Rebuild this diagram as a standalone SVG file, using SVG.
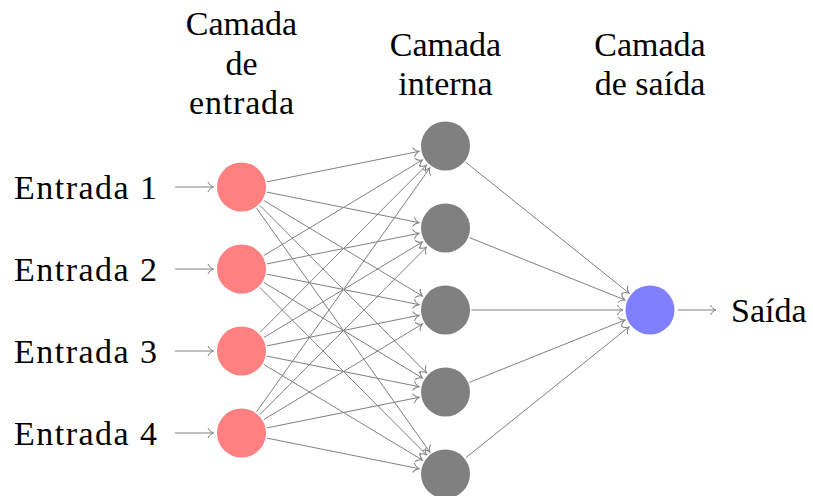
<svg xmlns="http://www.w3.org/2000/svg" width="813" height="496" viewBox="0 0 813 496">
<style>
  .t { font-family: "Liberation Serif", "Times New Roman", serif; font-size: 34px; fill: #000; }
  .e { stroke: #808080; stroke-width: 1; fill: none; marker-end: url(#arr); }
  .in { fill: #FF8080; }
  .hid { fill: #808080; }
  .out { fill: #8080FF; }
</style>
<defs>
  <marker id="arr" markerUnits="userSpaceOnUse" viewBox="-8 -7 10 14" markerWidth="10" markerHeight="14" refX="0" refY="0" orient="auto" overflow="visible">
    <path d="M -5.5,-5 C -4.5,-2 -1.5,-0.5 0,0 C -1.5,0.5 -4.5,2 -5.5,5" fill="none" stroke="#808080" stroke-width="1"/>
  </marker>
</defs>
<rect width="813" height="496" fill="#fff"/>

<g id="labels">
  <text class="t" x="241.5" y="35" text-anchor="middle">Camada</text>
  <text class="t" x="241.5" y="75" text-anchor="middle">de</text>
  <text class="t" x="241.5" y="114" text-anchor="middle" textLength="105">entrada</text>
  <text class="t" x="445.5" y="56" text-anchor="middle">Camada</text>
  <text class="t" x="445.5" y="95" text-anchor="middle">interna</text>
  <text class="t" x="650" y="56" text-anchor="middle">Camada</text>
  <text class="t" x="650" y="95" text-anchor="middle">de saída</text>
</g>

<g id="connectors">
  <line class="e" x1="175" y1="187" x2="213.5" y2="187"/>
  <line class="e" x1="175" y1="269" x2="213.5" y2="269"/>
  <line class="e" x1="175" y1="351" x2="213.5" y2="351"/>
  <line class="e" x1="175" y1="433" x2="213.5" y2="433"/>

  <line class="e" x1="266.99" y1="181.88" x2="419.03" y2="151.32"/>
  <line class="e" x1="266.99" y1="192.12" x2="419.03" y2="222.68"/>
  <line class="e" x1="263.77" y1="200.43" x2="422.38" y2="296.06"/>
  <line class="e" x1="259.84" y1="205.43" x2="426.45" y2="372.86"/>
  <line class="e" x1="256.56" y1="208.19" x2="429.86" y2="451.99"/>

  <line class="e" x1="263.77" y1="255.57" x2="422.38" y2="159.94"/>
  <line class="e" x1="266.99" y1="263.88" x2="419.03" y2="233.32"/>
  <line class="e" x1="266.99" y1="274.12" x2="419.03" y2="304.68"/>
  <line class="e" x1="263.77" y1="282.43" x2="422.38" y2="378.06"/>
  <line class="e" x1="259.84" y1="287.43" x2="426.45" y2="454.86"/>

  <line class="e" x1="259.84" y1="332.57" x2="426.45" y2="165.14"/>
  <line class="e" x1="263.77" y1="337.57" x2="422.38" y2="241.94"/>
  <line class="e" x1="266.99" y1="345.88" x2="419.03" y2="315.32"/>
  <line class="e" x1="266.99" y1="356.12" x2="419.03" y2="386.68"/>
  <line class="e" x1="263.77" y1="364.43" x2="422.38" y2="460.06"/>

  <line class="e" x1="256.56" y1="411.81" x2="429.86" y2="167.99"/>
  <line class="e" x1="259.84" y1="414.57" x2="426.45" y2="247.14"/>
  <line class="e" x1="263.77" y1="419.57" x2="422.38" y2="323.94"/>
  <line class="e" x1="266.99" y1="427.88" x2="419.03" y2="397.32"/>
  <line class="e" x1="266.99" y1="438.12" x2="419.03" y2="468.68"/>

  <line class="e" x1="465.78" y1="162.27" x2="628.94" y2="293.11"/>
  <line class="e" x1="469.63" y1="237.68" x2="624.94" y2="299.95"/>
  <line class="e" x1="471.5" y1="310" x2="623" y2="310"/>
  <line class="e" x1="469.63" y1="382.32" x2="624.94" y2="320.05"/>
  <line class="e" x1="465.78" y1="457.73" x2="628.94" y2="326.89"/>

  <line class="e" x1="678" y1="310" x2="716" y2="310"/>
</g>

<g id="in1"><circle class="in" cx="241.5" cy="187" r="24.5"/><text class="t" x="157" y="199" text-anchor="end" textLength="143">Entrada 1</text></g>
<g id="in2"><circle class="in" cx="241.5" cy="269" r="24.5"/><text class="t" x="157" y="281" text-anchor="end" textLength="143">Entrada 2</text></g>
<g id="in3"><circle class="in" cx="241.5" cy="351" r="24.5"/><text class="t" x="157" y="363" text-anchor="end" textLength="143">Entrada 3</text></g>
<g id="in4"><circle class="in" cx="241.5" cy="433" r="24.5"/><text class="t" x="157" y="445" text-anchor="end" textLength="143">Entrada 4</text></g>

<g id="h1"><circle class="hid" cx="445.5" cy="146" r="24.5"/></g>
<g id="h2"><circle class="hid" cx="445.5" cy="228" r="24.5"/></g>
<g id="h3"><circle class="hid" cx="445.5" cy="310" r="24.5"/></g>
<g id="h4"><circle class="hid" cx="445.5" cy="392" r="24.5"/></g>
<g id="h5"><circle class="hid" cx="445.5" cy="474" r="24.5"/></g>

<g id="out"><circle class="out" cx="650" cy="310" r="24.5"/><text class="t" x="731" y="322">Saída</text></g>
</svg>
